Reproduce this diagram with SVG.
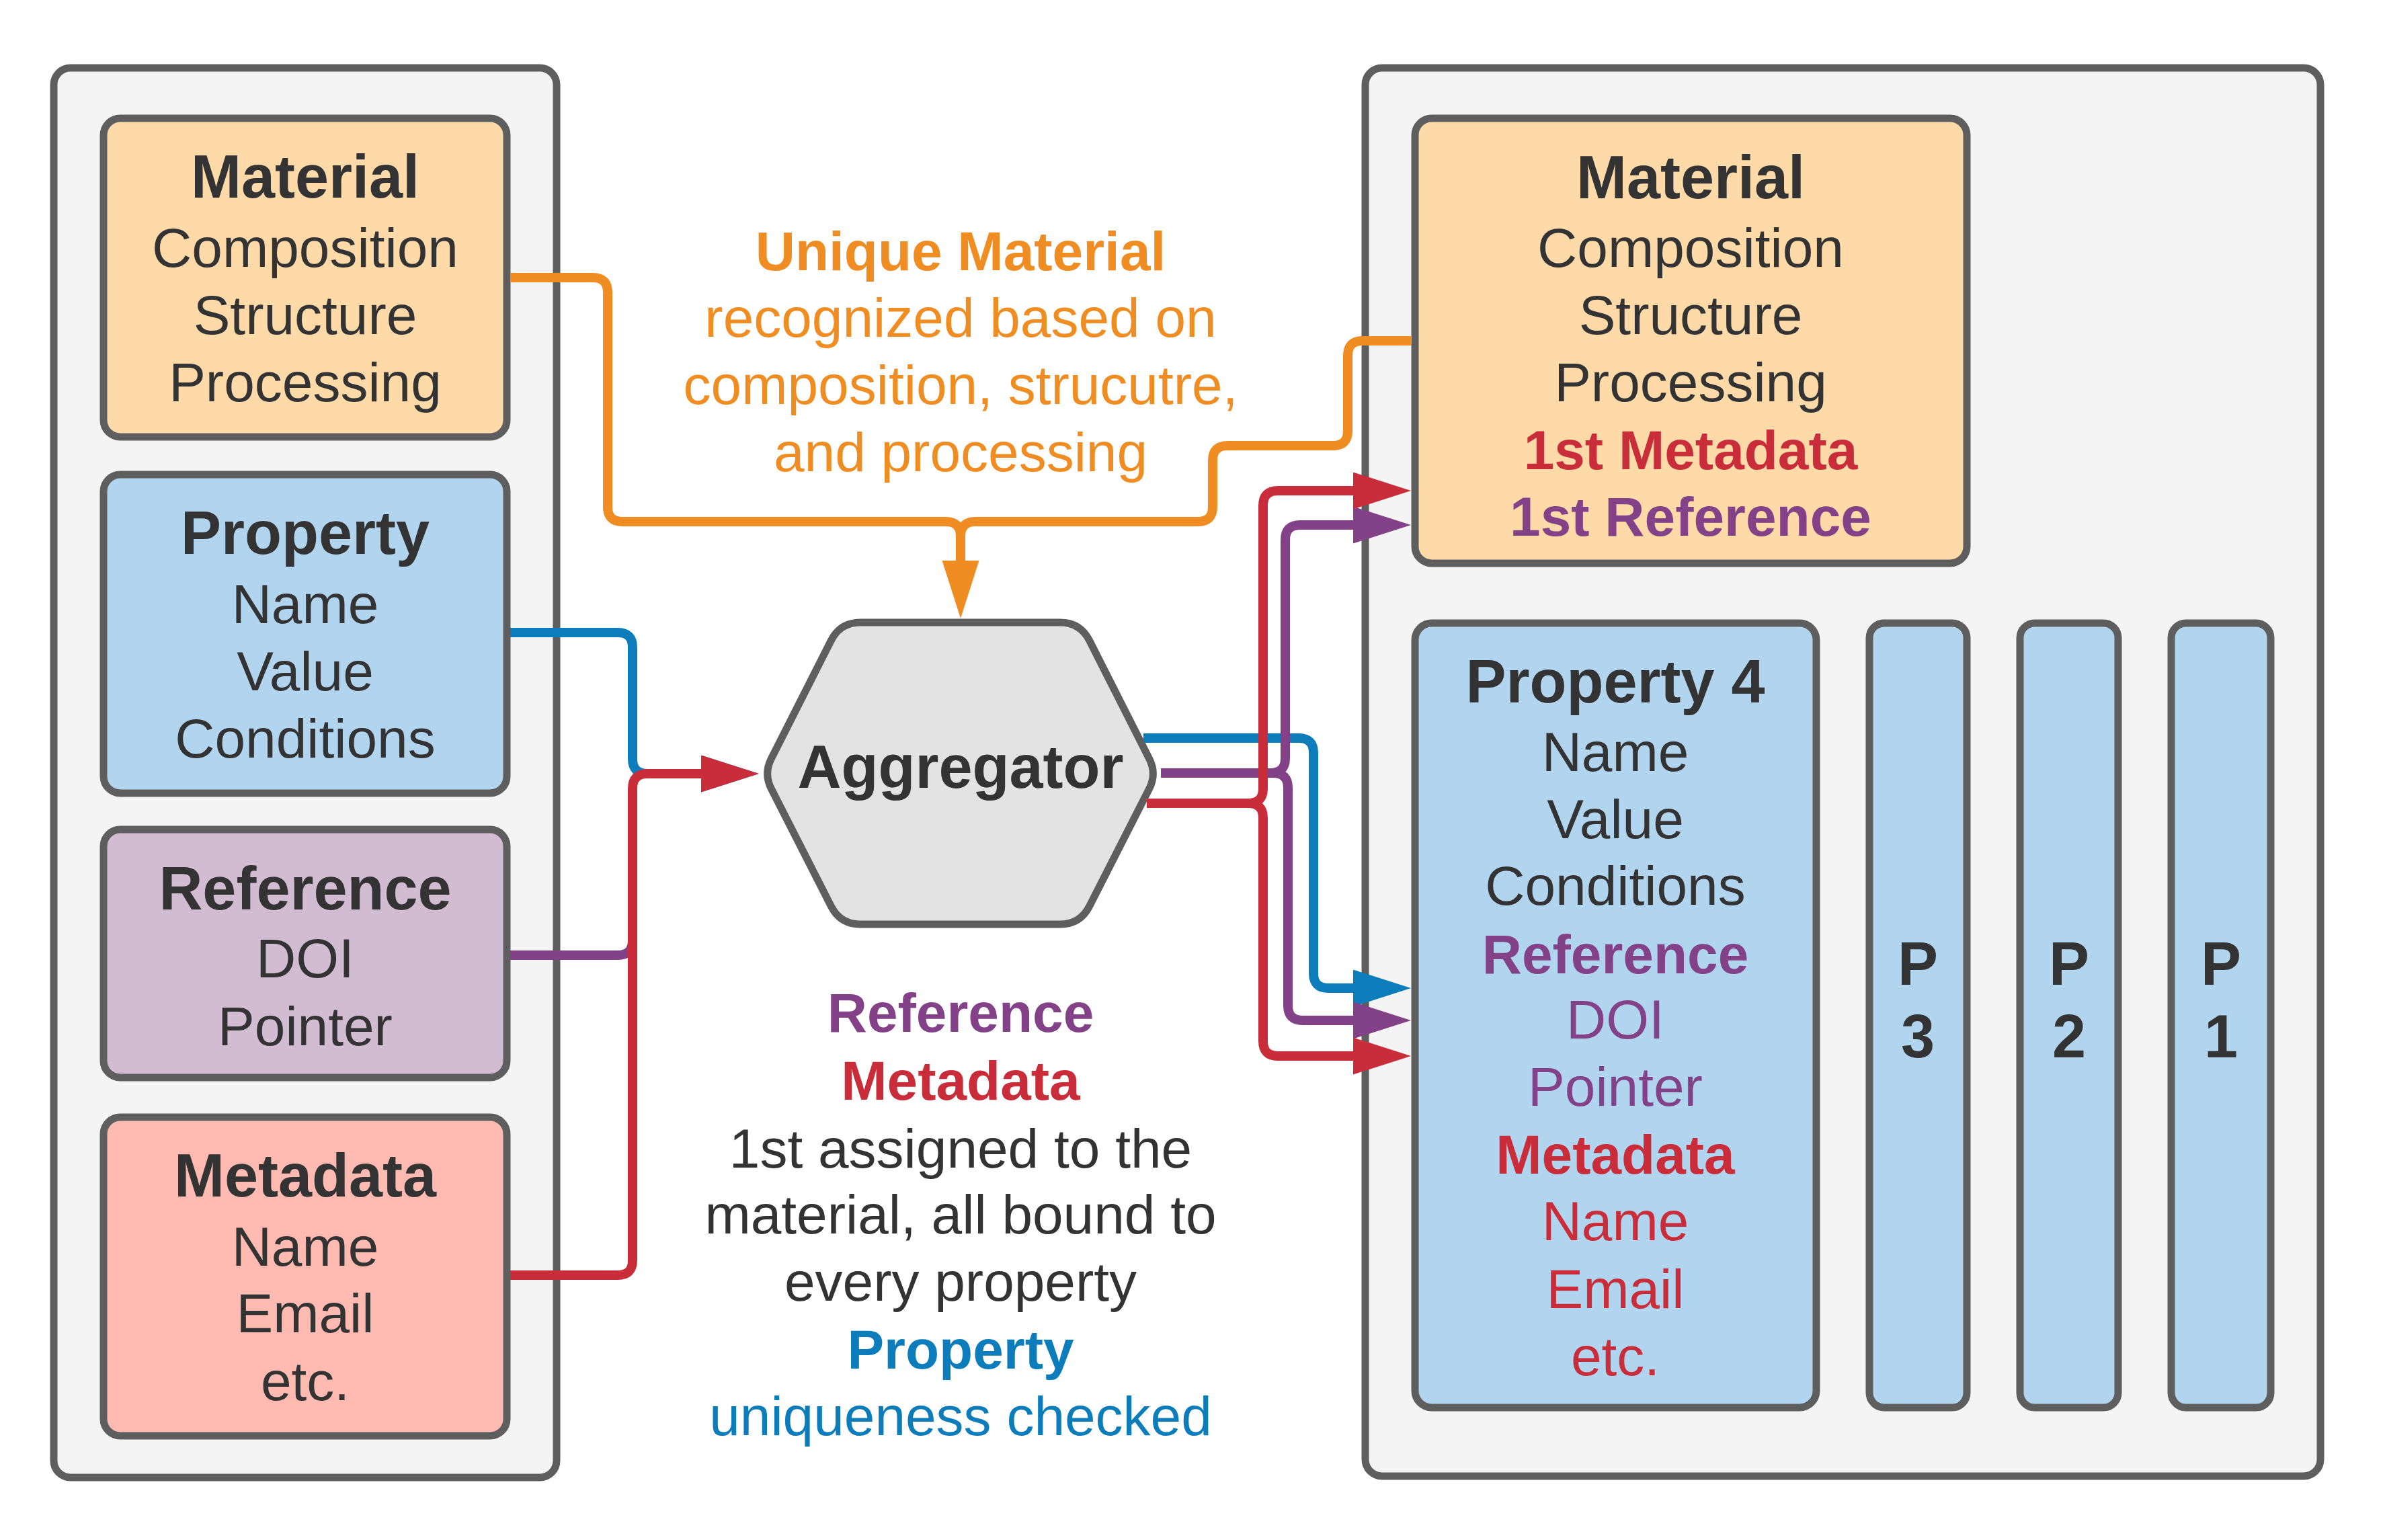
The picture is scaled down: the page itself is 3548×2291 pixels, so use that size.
<svg xmlns="http://www.w3.org/2000/svg" width="3548" height="2291" viewBox="0 0 3548 2291">
<style>
  .cont{fill:#F4F4F4;stroke:#5E5E5E;stroke-width:11}
  .box{stroke:#5E5E5E;stroke-width:11}
  .mat{fill:#FEDAA8}
  .prop{fill:#B2D5EF}
  .ref{fill:#D2BCD2}
  .meta{fill:#FFBBB1}
  .hex{fill:#E3E3E3;stroke:#5E5E5E;stroke-width:11}
  text{font-family:"Liberation Sans",Arial,sans-serif;text-anchor:middle;fill:#333333;font-size:82px}
  .t{font-size:90px;font-weight:bold}
  .b{font-weight:bold}
  .cO{fill:#EF8D22}
  .cB{fill:#0C7CBA}
  .cP{fill:#834187}
  .cR{fill:#C92D39}
  .ln{fill:none;stroke-width:14}
  .lO{stroke:#EF8D22}
  .lB{stroke:#0C7CBA}
  .lP{stroke:#834187}
  .lR{stroke:#C92D39}
</style>
<defs>
  <marker id="aO" markerUnits="userSpaceOnUse" markerWidth="86" markerHeight="55" refX="0" refY="27.5" orient="auto"><path d="M0,0 L86,27.5 L0,55 Z" fill="#EF8D22"/></marker>
  <marker id="aB" markerUnits="userSpaceOnUse" markerWidth="86" markerHeight="55" refX="0" refY="27.5" orient="auto"><path d="M0,0 L86,27.5 L0,55 Z" fill="#0C7CBA"/></marker>
  <marker id="aP" markerUnits="userSpaceOnUse" markerWidth="86" markerHeight="55" refX="0" refY="27.5" orient="auto"><path d="M0,0 L86,27.5 L0,55 Z" fill="#834187"/></marker>
  <marker id="aR" markerUnits="userSpaceOnUse" markerWidth="86" markerHeight="55" refX="0" refY="27.5" orient="auto"><path d="M0,0 L86,27.5 L0,55 Z" fill="#C92D39"/></marker>
</defs>
<rect width="3548" height="2291" fill="#FFFFFF"/>

<g id="input-container"><rect class="cont" x="80" y="101" width="748" height="2097" rx="25"/></g>
<g id="output-container"><rect class="cont" x="2031" y="101" width="1421" height="2095" rx="25"/></g>

<g id="material-in">
  <rect class="box mat" x="154" y="176" width="600" height="474" rx="25"/>
  <text class="t" x="454" y="294">Material</text>
  <text x="454" y="397">Composition</text>
  <text x="454" y="497">Structure</text>
  <text x="454" y="597">Processing</text>
</g>
<g id="property-in">
  <rect class="box prop" x="154" y="706" width="600" height="474" rx="25"/>
  <text class="t" x="454" y="824">Property</text>
  <text x="454" y="927">Name</text>
  <text x="454" y="1027">Value</text>
  <text x="454" y="1127">Conditions</text>
</g>
<g id="reference-in">
  <rect class="box ref" x="154" y="1234" width="600" height="369" rx="25"/>
  <text class="t" x="454" y="1353">Reference</text>
  <text x="454" y="1454">DOI</text>
  <text x="454" y="1555">Pointer</text>
</g>
<g id="metadata-in">
  <rect class="box meta" x="154" y="1662" width="600" height="474" rx="25"/>
  <text class="t" x="454" y="1780">Metadata</text>
  <text x="454" y="1883">Name</text>
  <text x="454" y="1982">Email</text>
  <text x="454" y="2083">etc.</text>
</g>

<g id="aggregator">
  <path class="hex" d="M1147.3,1128.7 L1236.4,952.8 Q1250,926 1280,926 L1577,926 Q1607,926 1620.6,952.8 L1709.7,1128.7 Q1721,1151 1709.7,1173.3 L1620.6,1348.2 Q1607,1375 1577,1375 L1280,1375 Q1250,1375 1236.4,1348.2 L1147.3,1173.3 Q1136,1151 1147.3,1128.7 Z"/>
  <text class="t" x="1429" y="1172">Aggregator</text>
</g>

<g id="label-unique">
  <text class="b cO" x="1429" y="402">Unique Material</text>
  <text class="cO" x="1429" y="501">recognized based on</text>
  <text class="cO" x="1429" y="601">composition, strucutre,</text>
  <text class="cO" x="1429" y="701">and processing</text>
</g>
<g id="label-binding">
  <text class="b cP" x="1429" y="1535">Reference</text>
  <text class="b cR" x="1429" y="1636">Metadata</text>
  <text x="1429" y="1737">1st assigned to the</text>
  <text x="1429" y="1835">material, all bound to</text>
  <text x="1429" y="1935">every property</text>
  <text class="b cB" x="1429" y="2036">Property</text>
  <text class="cB" x="1429" y="2135">uniqueness checked</text>
</g>

<g id="material-out">
  <rect class="box mat" x="2105" y="176" width="821" height="662" rx="25"/>
  <text class="t" x="2515" y="295">Material</text>
  <text x="2515" y="397">Composition</text>
  <text x="2515" y="497">Structure</text>
  <text x="2515" y="597">Processing</text>
  <text class="b cR" x="2515" y="698">1st Metadata</text>
  <text class="b cP" x="2515" y="797">1st Reference</text>
</g>
<g id="property-4">
  <rect class="box prop" x="2105" y="927" width="597" height="1167" rx="25"/>
  <text class="t" x="2403" y="1045">Property 4</text>
  <text x="2403" y="1147">Name</text>
  <text x="2403" y="1247">Value</text>
  <text x="2403" y="1346">Conditions</text>
  <text class="b cP" x="2403" y="1448">Reference</text>
  <text class="cP" x="2403" y="1545">DOI</text>
  <text class="cP" x="2403" y="1645">Pointer</text>
  <text class="b cR" x="2403" y="1746">Metadata</text>
  <text class="cR" x="2403" y="1845">Name</text>
  <text class="cR" x="2403" y="1946">Email</text>
  <text class="cR" x="2403" y="2046">etc.</text>
</g>
<g id="property-3">
  <rect class="box prop" x="2781" y="927" width="145" height="1167" rx="22"/>
  <text class="t" x="2853" y="1465">P</text>
  <text class="t" x="2853" y="1573">3</text>
</g>
<g id="property-2">
  <rect class="box prop" x="3005" y="927" width="146" height="1167" rx="22"/>
  <text class="t" x="3078" y="1465">P</text>
  <text class="t" x="3078" y="1573">2</text>
</g>
<g id="property-1">
  <rect class="box prop" x="3230" y="927" width="148" height="1167" rx="22"/>
  <text class="t" x="3304" y="1465">P</text>
  <text class="t" x="3304" y="1573">1</text>
</g>

<g id="connectors">
  <path class="ln lO" d="M759,413 H882 Q904,413 904,435 V754 Q904,776 926,776 H1407 Q1429,776 1429,798 V834" marker-end="url(#aO)"/>
  <path class="ln lO" d="M2099,507 H2027 Q2005,507 2005,529 V641 Q2005,663 1983,663 H1826 Q1804,663 1804,685 V754 Q1804,776 1782,776 H1451 Q1429,776 1429,798"/>
  <path class="ln lP" d="M759,1421 H919 Q941,1421 941,1399 V1370"/>
  <path class="ln lB" d="M759,941 H919 Q941,941 941,963 V1129 Q941,1151 963,1151 H1043" marker-end="url(#aB)"/>
  <path class="ln lR" d="M759,1897 H919 Q941,1897 941,1875 V1173 Q941,1151 963,1151 H1043" marker-end="url(#aR)"/>
  <path class="ln lB" d="M1701,1098 H1932 Q1954,1098 1954,1120 V1448 Q1954,1470 1976,1470 H2013" marker-end="url(#aB)"/>
  <path class="ln lP" d="M1727,1150 H1890 Q1912,1150 1912,1128 V803 Q1912,781 1934,781 H2013" marker-end="url(#aP)"/>
  <path class="ln lP" d="M1890,1150 H1894 Q1916,1150 1916,1172 V1496 Q1916,1518 1938,1518 H2013" marker-end="url(#aP)"/>
  <path class="ln lR" d="M1706,1195 H1857 Q1879,1195 1879,1173 V752 Q1879,730 1901,730 H2013" marker-end="url(#aR)"/>
  <path class="ln lR" d="M1850,1195 H1857 Q1879,1195 1879,1217 V1549 Q1879,1571 1901,1571 H2013" marker-end="url(#aR)"/>
</g>
</svg>
